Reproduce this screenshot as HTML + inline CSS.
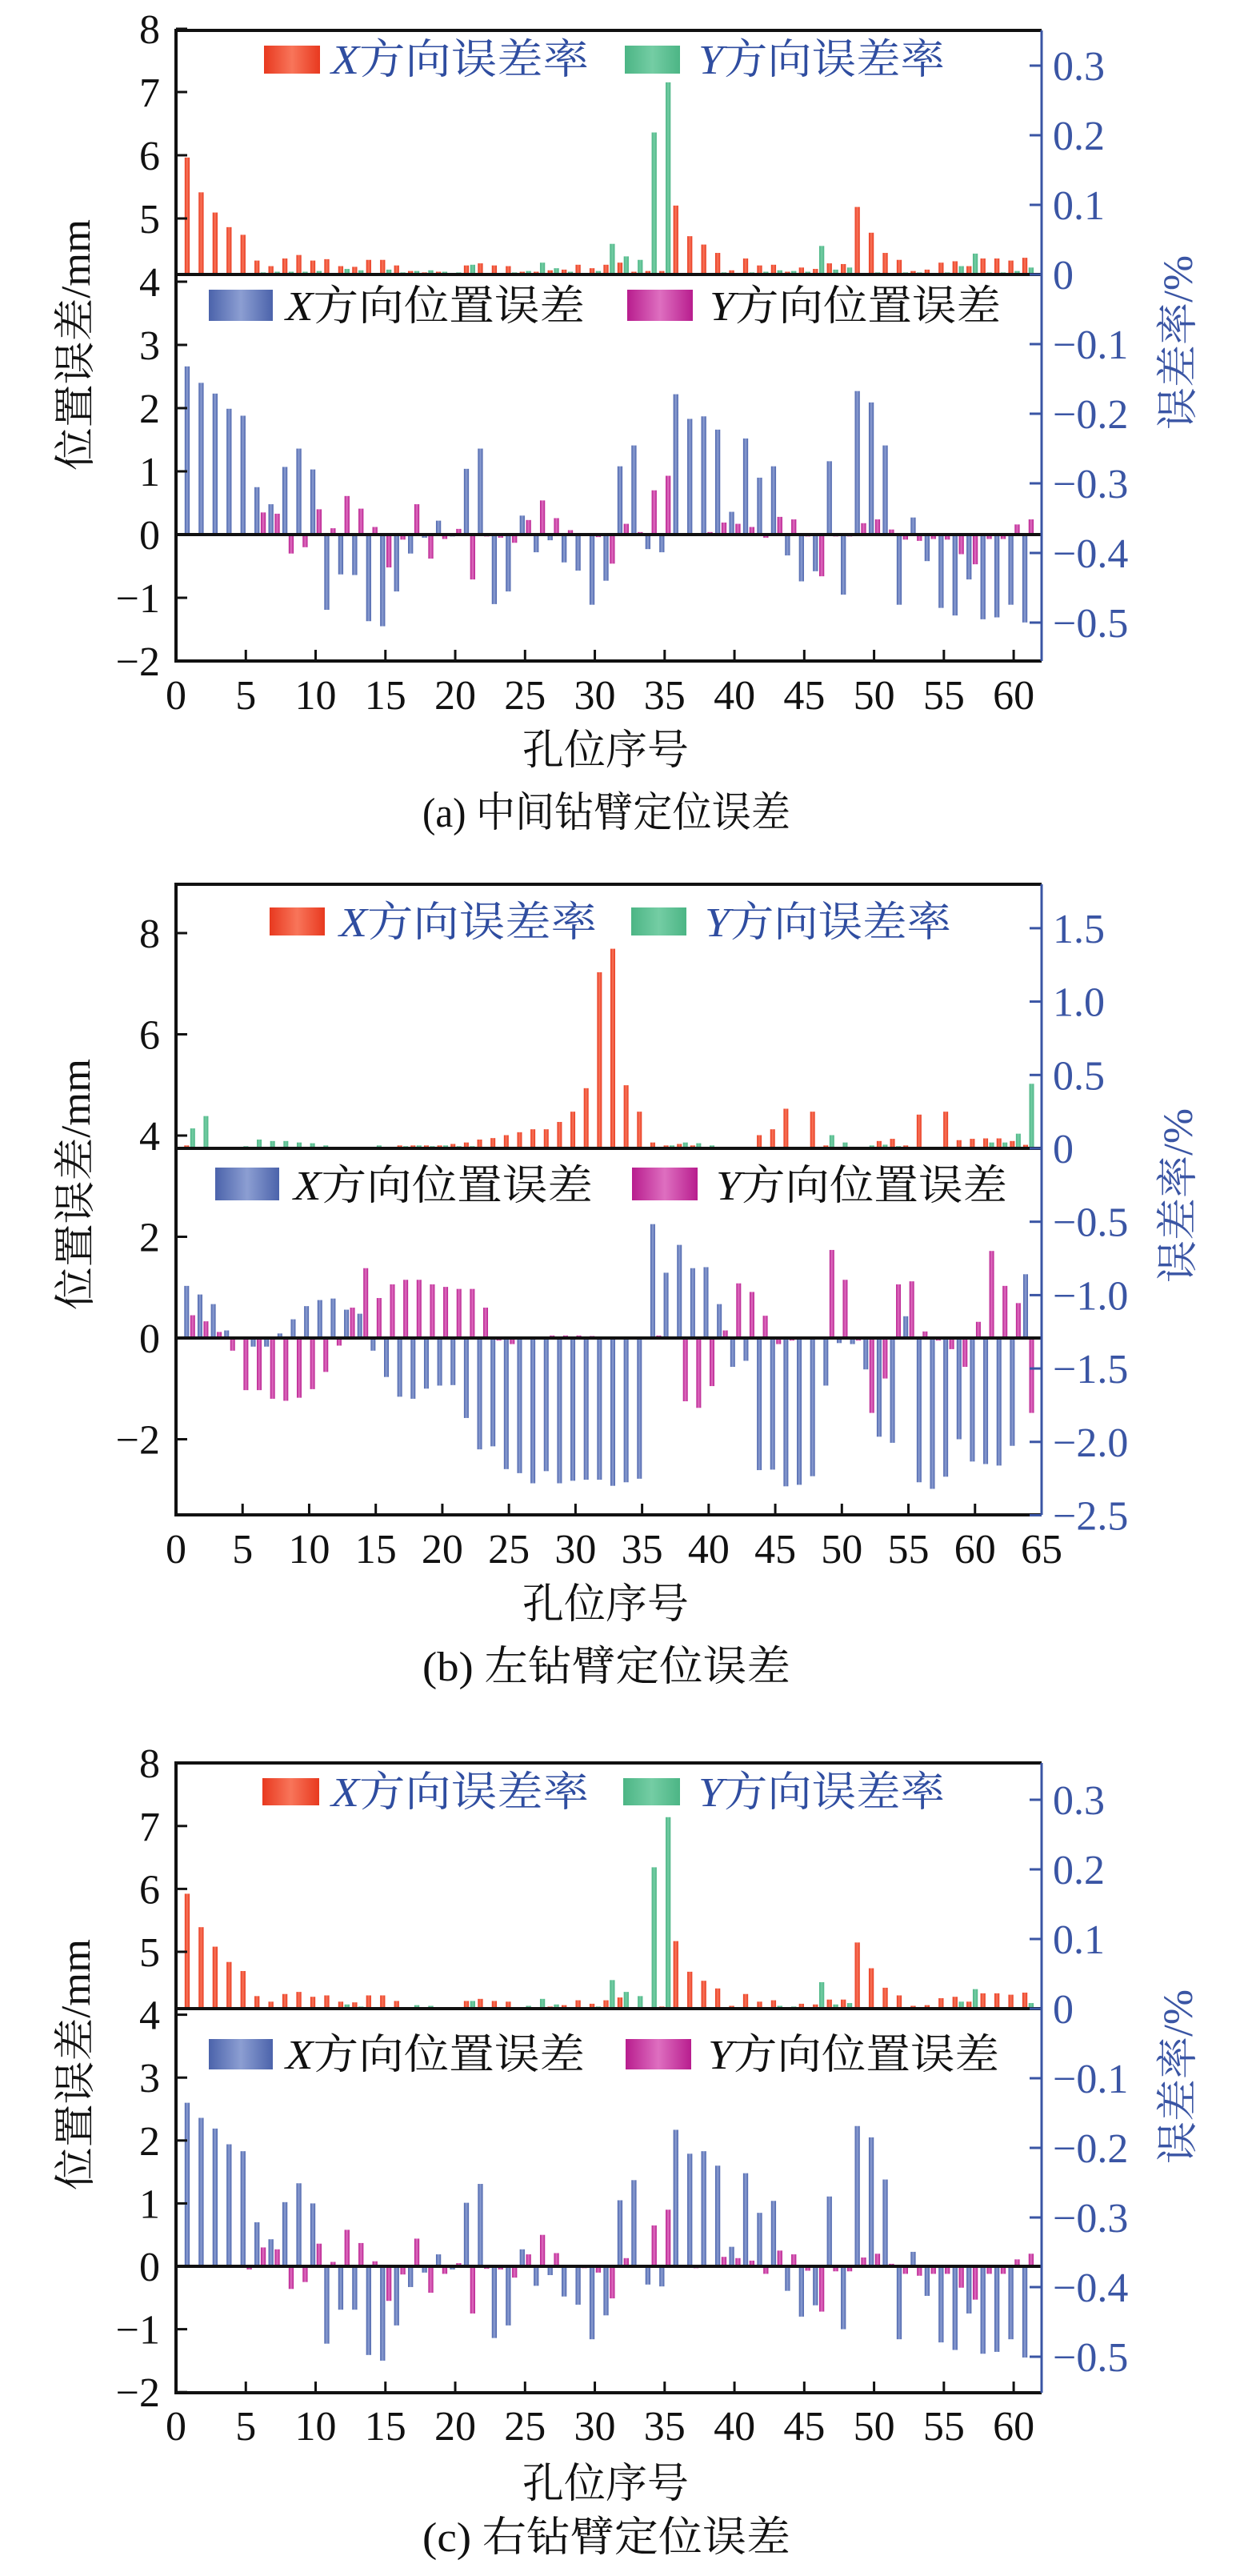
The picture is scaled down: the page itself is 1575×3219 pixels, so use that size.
<!DOCTYPE html>
<html><head><meta charset="utf-8"><title>钻臂定位误差</title>
<style>
html,body{margin:0;padding:0;background:#fff;}
svg{display:block;}
text{font-family:"Liberation Serif","Noto Serif CJK SC",serif;}
</style></head>
<body>
<svg id="fig" xmlns="http://www.w3.org/2000/svg" width="1575" height="3219" viewBox="0 0 1575 3219">
<defs>
<linearGradient id="gRed" x1="0" x2="1" y1="0" y2="0"><stop offset="0" stop-color="#e8391f"/><stop offset="0.5" stop-color="#f8755a"/><stop offset="1" stop-color="#e8391f"/></linearGradient>
<linearGradient id="gGreen" x1="0" x2="1" y1="0" y2="0"><stop offset="0" stop-color="#4cb585"/><stop offset="0.5" stop-color="#74cda4"/><stop offset="1" stop-color="#4cb585"/></linearGradient>
<linearGradient id="gBlue" x1="0" x2="1" y1="0" y2="0"><stop offset="0" stop-color="#4b63ab"/><stop offset="0.5" stop-color="#8c9ed2"/><stop offset="1" stop-color="#4b63ab"/></linearGradient>
<linearGradient id="gMag" x1="0" x2="1" y1="0" y2="0"><stop offset="0" stop-color="#b81d8e"/><stop offset="0.5" stop-color="#de6fc0"/><stop offset="1" stop-color="#b81d8e"/></linearGradient>
</defs>
</svg>
<script>
// ---------- Panel (a) data ----------
const aXRate = [.168,.118,.089,.068,.057,.020,.012,.023,.028,.020,.022,.012,.011,.021,.021,.013,.005,.003,.004,.002,.013,.016,.013,.012,.004,.004,.006,.007,.014,.009,.014,.017,.004,.005,.005,.099,.055,.043,.031,.006,.023,.013,.014,.004,.010,.008,.016,.015,.097,.060,.031,.021,.005,.007,.017,.019,.012,.023,.023,.020,.024];
const aYRate = [.000,.001,.001,.001,.001,.003,.004,.004,.004,.005,.001,.008,.006,.002,.007,.003,.005,.006,.004,.003,.014,.002,.002,.003,.005,.017,.009,.004,.001,.005,.044,.026,.021,.204,.276,.001,.002,.002,.003,.002,.003,.004,.006,.005,.004,.041,.007,.010,.002,.003,.001,.003,.003,.002,.003,.012,.030,.003,.003,.005,.010];
const aXPos = [2.66,2.40,2.23,1.99,1.88,.75,.48,1.07,1.36,1.03,-1.19,-.63,-.64,-1.37,-1.45,-.90,-.30,-.05,.22,-.03,1.04,1.36,-1.10,-.90,.30,-.28,-.09,-.44,-.57,-1.11,-.73,1.08,1.41,-.23,-.28,2.22,1.83,1.87,1.66,.36,1.52,.90,1.08,-.33,-.74,-.58,1.16,-.95,2.27,2.09,1.41,-1.11,.27,-.42,-1.16,-1.28,-.71,-1.34,-1.31,-1.11,-1.39];
const aYPos = [0,0,.02,.01,0,.35,.33,-.30,-.20,.40,.10,.61,.41,.12,-.52,-.08,.48,-.38,-.07,.09,-.71,-.03,-.05,-.13,.23,.54,.26,.07,0,-.04,-.46,.17,.04,.70,.93,.01,0,.04,.19,.17,.12,-.05,.28,.24,-.03,-.66,-.03,-.03,.18,.24,.08,-.08,-.10,-.07,-.08,-.31,-.47,-.07,-.07,.16,.24];
// ---------- Panel (b) data ----------
const bXRate = [.02,.01,.005,0,0,.003,0,0,.005,.005,.01,.01,.01,.01,.01,.01,.02,.02,.02,.02,.03,.04,.06,.07,.09,.11,.13,.13,.18,.25,.41,1.20,1.36,.43,.25,.04,.02,.03,.02,.01,.01,.01,.01,.09,.13,.27,0,.25,.02,0,0,.01,.05,.065,.02,.23,0,.25,.056,.065,.068,.068,.05,.024];
const bYRate = [.136,.22,.01,.01,.015,.06,.05,.05,.04,.035,.02,.01,.01,.01,.02,.01,.015,.02,.015,.02,.015,.015,.01,0,0,0,0,0,0,0,0,0,0,0,0,.01,.02,.04,.035,.02,.01,.01,.01,0,0,0,0,0,.09,.04,0,.02,.025,.015,.01,0,.01,.01,.01,.01,.04,.04,.10,.44];
const bXPos = [1.03,.86,.67,.15,0,-.17,-.17,.09,.37,.63,.75,.78,.56,.48,-.25,-.77,-1.16,-1.20,-1.0,-.94,-.93,-1.58,-2.20,-2.14,-2.59,-2.67,-2.87,-2.63,-2.87,-2.82,-2.80,-2.80,-2.92,-2.85,-2.78,2.25,1.29,1.84,1.38,1.40,.67,-.57,-.45,-2.61,-2.60,-2.93,-2.90,-2.73,-.94,-.10,-.12,-.62,-1.95,-2.07,.43,-2.85,-2.98,-2.74,-2.0,-2.44,-2.49,-2.52,-2.13,1.26];
const bYPos = [.45,.33,.12,-.25,-1.03,-1.03,-1.20,-1.24,-1.18,-1.01,-.67,-.15,.60,1.38,.79,1.06,1.15,1.15,1.06,1.01,.97,.97,.60,-.05,-.12,-.03,.03,.05,.05,.05,.04,.03,.03,0,0,.05,.03,-1.25,-1.38,-.95,.15,1.08,.91,.44,-.12,-.05,0,0,1.74,1.15,-.05,-1.48,-.80,1.06,1.12,.13,-.05,-.22,-.57,.32,1.72,1.03,.69,-1.48];
// ---------- Panel (c) data ----------
const cXRate = [.165,.117,.089,.067,.054,.018,.010,.021,.024,.017,.019,.010,.009,.019,.019,.011,.002,.001,.001,.001,.011,.014,.011,.010,.002,.002,.003,.005,.012,.007,.012,.016,.002,.002,.003,.097,.053,.040,.029,.004,.021,.010,.012,.002,.007,.006,.013,.013,.095,.058,.030,.019,.004,.005,.015,.017,.010,.022,.022,.020,.023];
const cYRate = [0,0,0,0,0,.001,.001,.001,.001,.001,.001,.006,.003,.001,.001,.001,.005,.004,.001,.001,.011,.001,.001,.001,.004,.014,.006,.002,.001,.003,.041,.024,.018,.203,.275,.001,.001,.001,.001,.001,.001,.001,.004,.003,.002,.038,.006,.008,.001,.001,.001,.001,.001,.001,.001,.010,.028,.001,.001,.002,.008];
const cXPos = [2.60,2.36,2.19,1.94,1.83,.70,.43,1.02,1.32,1.0,-1.23,-.69,-.69,-1.41,-1.50,-.94,-.33,-.10,.19,-.05,1.01,1.31,-1.14,-.94,.27,-.31,-.14,-.48,-.61,-1.16,-.78,1.05,1.37,-.29,-.32,2.17,1.79,1.83,1.60,.31,1.48,.85,1.04,-.39,-.80,-.62,1.11,-1.0,2.23,2.05,1.38,-1.16,.23,-.47,-1.21,-1.33,-.75,-1.39,-1.36,-1.16,-1.45];
const cYPos = [-.02,-.02,-.02,0,-.05,.30,.27,-.36,-.25,.36,.07,.58,.37,.08,-.55,-.13,.44,-.42,-.12,.05,-.75,-.04,-.05,-.18,.19,.50,.21,-.02,-.03,-.10,-.51,.13,-.02,.65,.90,-.02,-.03,0,.15,.13,.09,-.12,.25,.19,-.07,-.72,-.08,-.08,.14,.20,.04,-.12,-.15,-.12,-.12,-.34,-.53,-.12,-.12,.11,.20];
// ---------- tick labels ----------
const acLeftTicks = [8,7,6,5,4,3,2,1,0,-1,-2];
const bLeftTicks = [8,6,4,2,0,-2];
const acRightTicks = [0.3,0.2,0.1,0,-0.1,-0.2,-0.3,-0.4,-0.5];
const acRightLabels = ["0.3","0.2","0.1","0","\u22120.1","\u22120.2","\u22120.3","\u22120.4","\u22120.5"];
const bRightTicks = [1.5,1.0,0.5,0,-0.5,-1.0,-1.5,-2.0,-2.5];
const bRightLabels = ["1.5","1.0","0.5","0","\u22120.5","\u22121.0","\u22121.5","\u22122.0","\u22122.5"];
const acXTicks = [0,5,10,15,20,25,30,35,40,45,50,55,60];
const bXTicks = [0,5,10,15,20,25,30,35,40,45,50,55,60,65];

const NS = "http://www.w3.org/2000/svg";
const svg = document.getElementById('fig');
function mk(tag, attrs, parent){
  const e = document.createElementNS(NS, tag);
  for (const k in attrs) e.setAttribute(k, attrs[k]);
  (parent||svg).appendChild(e);
  return e;
}
function fmtMm(v){ return v < 0 ? "\u2212" + (-v) : String(v); }

function drawPanel(p){
  const g = mk('g', {});
  
  
  const x0 = 220, x1 = 1302;
  const pxU = (x1 - x0) / p.xmax;
  const sx = v => x0 + v * pxU;
  const syL = v => p.zeroY - v * p.pxMm;
  const syR = v => p.divY - v * p.pxRate;
  const bw = 0.36 * pxU;
  p.xr.forEach((v, i) => {
    const n = i + 1, y = syR(v);
    const r = mk('rect', {x: sx(n - 0.2) - bw/2, y: y, width: bw, height: Math.max(0, p.divY - y), fill: 'url(#gRed)'}, g);
    
    
  });
  p.yr.forEach((v, i) => {
    const n = i + 1, y = syR(v);
    const r = mk('rect', {x: sx(n + 0.25) - bw/2, y: y, width: bw, height: Math.max(0, p.divY - y), fill: 'url(#gGreen)'}, g);
    
    
  });
  p.xp.forEach((v, i) => {
    const n = i + 1, y = syL(v), z = syL(0);
    const r = mk('rect', {x: sx(n - 0.2) - bw/2, y: Math.min(y, z), width: bw, height: Math.abs(z - y), fill: 'url(#gBlue)'}, g);
    
    
  });
  p.yp.forEach((v, i) => {
    const n = i + 1, y = syL(v), z = syL(0);
    const r = mk('rect', {x: sx(n + 0.25) - bw/2, y: Math.min(y, z), width: bw, height: Math.abs(z - y), fill: 'url(#gMag)'}, g);
    
    
  });
  const zl = mk('line', {x1: x0, x2: x1, y1: syL(0), y2: syL(0), stroke: '#111', 'stroke-width': 4}, g);
  
  
  const dl = mk('line', {x1: x0, x2: x1, y1: p.divY, y2: p.divY, stroke: '#111', 'stroke-width': 4}, g);
  
  
  const fr = mk('path', {d: `M${x1},${p.top} L${x0},${p.top} L${x0},${p.bottom} L${x1},${p.bottom}`, fill: 'none', stroke: '#111', 'stroke-width': 4}, g);
  
  
  const ra = mk('line', {x1: x1, x2: x1, y1: p.top, y2: p.bottom, stroke: '#3a55a4', 'stroke-width': 3}, g);
  
  
  p.lt.forEach(v => {
    const y = syL(v);
    const t = mk('line', {x1: x0, x2: x0 + 14, y1: y, y2: y, stroke: '#111', 'stroke-width': 3}, g);
    
    
    const tx = mk('text', {x: 200, y: y + 18, 'font-size': 52, 'text-anchor': 'end', fill: '#111'}, g);
    tx.textContent = fmtMm(v);
    
    
  });
  p.rt.forEach((v, i) => {
    const y = syR(v);
    const t = mk('line', {x1: x1 - 15, x2: x1, y1: y, y2: y, stroke: '#3a55a4', 'stroke-width': 3}, g);
    
    
    const tx = mk('text', {x: 1316, y: y + 18, 'font-size': 52, fill: '#3a55a4'}, g);
    tx.textContent = p.rl[i];
    
    
  });
  p.xt.forEach(v => {
    const x = sx(v);
    if (v > 0 && v < p.xmax) {
      const t = mk('line', {x1: x, x2: x, y1: p.bottom, y2: p.bottom - 14, stroke: '#111', 'stroke-width': 3}, g);
      
      
    }
    const tx = mk('text', {x: x, y: p.bottom + p.tickOff, 'font-size': 52, 'text-anchor': 'middle', fill: '#111'}, g);
    tx.textContent = String(v);
    
    
  });
  const L = p.leg;
  function legend(sw, fill, tx, tw, baseline, sy0, sy1, label, color, name){
    const r = mk('rect', {x: sw[0], y: sy0, width: sw[1] - sw[0], height: sy1 - sy0, fill: fill}, g);
    
    
    const t = mk('text', {x: tx, y: baseline, 'font-size': 52, fill: color, textLength: tw, lengthAdjust: 'spacingAndGlyphs'}, g);
    const it = mk('tspan', {'font-style': 'italic'}, t);
    it.textContent = label[0];
    const rest = mk('tspan', {}, t);
    rest.textContent = label.slice(1);
    
    
  }
  legend(L.u1, 'url(#gRed)', L.u1t, 322, L.ub, L.us0, L.us1, 'X方向误差率', '#2f4da0', 'legend-x-rate');
  legend(L.u2, 'url(#gGreen)', L.u2t, 308, L.ub, L.us0, L.us1, 'Y方向误差率', '#2f4da0', 'legend-y-rate');
  legend(L.l1, 'url(#gBlue)', L.l1t, 374, L.lb, L.ls0, L.ls1, 'X方向位置误差', '#111', 'legend-x-pos');
  legend(L.l2, 'url(#gMag)', L.l2t, 364, L.lb, L.ls0, L.ls1, 'Y方向位置误差', '#111', 'legend-y-pos');
  const lt = mk('text', {x: 0, y: 0, 'font-size': 52, 'text-anchor': 'middle', fill: '#111', transform: `translate(112,${p.lTitleY}) rotate(-90)`, textLength: 314, lengthAdjust: 'spacingAndGlyphs'}, g);
  lt.textContent = '位置误差/mm';
  
  
  const rtt = mk('text', {x: 0, y: 0, 'font-size': 52, 'text-anchor': 'middle', fill: '#3a55a4', transform: `translate(1490,${p.rTitleY}) rotate(-90)`, textLength: 218, lengthAdjust: 'spacingAndGlyphs'}, g);
  rtt.textContent = '误差率/%';
  
  
  const xt = mk('text', {x: 757, y: p.bottom + p.titleOff, 'font-size': 52, 'text-anchor': 'middle', fill: '#111'}, g);
  xt.textContent = '孔位序号';
  
  
  const cp = mk('text', {x: 758, y: p.bottom + p.capOff, 'font-size': 52, 'text-anchor': 'middle', fill: '#111', textLength: 460, lengthAdjust: 'spacingAndGlyphs'}, g);
  cp.textContent = p.caption;
  
  
}

drawPanel({id:'a', xmax:62, top:38, bottom:826, zeroY:668, pxMm:79, divY:343, pxRate:870,
  xr:aXRate, yr:aYRate, xp:aXPos, yp:aYPos, lt:acLeftTicks, rt:acRightTicks, rl:acRightLabels, xt:acXTicks,
  tickOff:60, titleOff:129, capOff:207, lTitleY:431, rTitleY:428, caption:'(a) 中间钻臂定位误差',
  leg:{u1:[330,400],u1t:414,u2:[781,850],u2t:873,ub:92,us0:57,us1:92,l1:[261,341],l1t:357,l2:[784,866],l2t:887,lb:400,ls0:362,ls1:401}});
drawPanel({id:'b', xmax:65, top:1105, bottom:1893, zeroY:1672, pxMm:63.25, divY:1435, pxRate:183.4,
  xr:bXRate, yr:bYRate, xp:bXPos, yp:bYPos, lt:bLeftTicks, rt:bRightTicks, rl:bRightLabels, xt:bXTicks,
  tickOff:60, titleOff:129, capOff:207, lTitleY:1480, rTitleY:1494, caption:'(b) 左钻臂定位误差',
  leg:{u1:[337,406],u1t:424,u2:[789,858],u2t:881,ub:1170,us0:1134,us1:1169,l1:[269,349],l1t:367,l2:[790,872],l2t:895,lb:1499,ls0:1459,ls1:1500}});
drawPanel({id:'c', xmax:62, top:2203, bottom:2990, zeroY:2832, pxMm:78.6, divY:2510, pxRate:870,
  xr:cXRate, yr:cYRate, xp:cXPos, yp:cYPos, lt:acLeftTicks, rt:acRightTicks, rl:acRightLabels, xt:acXTicks,
  tickOff:59, titleOff:131, capOff:198, lTitleY:2580, rTitleY:2595, caption:'(c) 右钻臂定位误差',
  leg:{u1:[328,399],u1t:414,u2:[779,850],u2t:873,ub:2257,us0:2222,us1:2256,l1:[261,341],l1t:357,l2:[782,864],l2t:885,lb:2585,ls0:2548,ls1:2586}});
</script>
</body></html>
